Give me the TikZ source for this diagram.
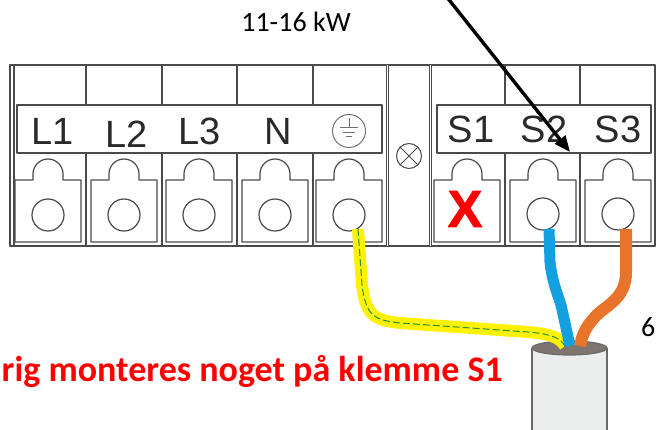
\documentclass[tikz,border=0pt]{standalone}
\usepackage{fontspec}
\setmainfont{Liberation Sans}
\newfontfamily\carlito{Carlito}
\newfontfamily\heavyx{Liberation Sans}[FakeBold=1.6]
\usetikzlibrary{arrows.meta}
\definecolor{frm}{HTML}{4A4A4A}
\definecolor{gnd}{HTML}{707070}
\definecolor{lbl}{HTML}{2A2A2A}
\definecolor{wyel}{HTML}{FFF200}
\definecolor{wgrn}{HTML}{24913A}
\definecolor{wblu}{HTML}{12A0E0}
\definecolor{wora}{HTML}{E8732A}
\definecolor{cabl}{HTML}{ECEDED}
\definecolor{cabedge}{HTML}{6B6B6B}
\definecolor{cabtop}{HTML}{7E7470}
\definecolor{xred}{HTML}{FF0000}
\begin{document}
\begin{tikzpicture}[x=1pt,y=-1pt,line join=round,
  frame/.style={draw=frm,line width=1.2pt},
  dbl/.style={draw=frm,line width=0.9pt,double=white,double distance=1.8pt},
  tlabel/.style={text=lbl,font=\fontsize{38}{40}\selectfont,anchor=base,inner sep=0pt},
  screw/.style={circle,draw=frm,line width=1.2pt,minimum size=32pt,inner sep=0pt},
  wire/.style={line width=#1,line cap=butt},
  smalltxt/.style={font=\carlito\fontsize{28}{30}\selectfont,inner sep=0pt},
]
\useasboundingbox (0,0) rectangle (662,430);
% frame
\draw[frame] (10,65) rectangle (655,246);
\draw[frame] (14,65) -- (14,246);
\draw[frame] (17,105) rectangle (382,153);
\draw[frame] (437,105) rectangle (651,153);
\foreach \x in {86,162,237,313,505,580}{
  \draw[frame] (\x,65) -- (\x,105);
  \draw[frame] (\x,153) -- (\x,246);
}
\draw[dbl] (387.5,65) -- (387.5,246);
\draw[dbl] (430.5,65) -- (430.5,246);
% terminal bodies
\foreach \c in {48,124,199,275,349,467,543,618}{
  \draw[frame,fill=white] ({\c-33},242) -- ({\c-33},180) -- ({\c-15},180) -- ({\c-15},174)
    arc[start angle=180,end angle=0,radius=15pt] -- ({\c+15},180) -- ({\c+33},180) -- ({\c+33},242) -- cycle;
}
% screws
\node[screw] (tL1) at (48,215) {};
\node[screw] (tL2) at (124,215) {};
\node[screw] (tL3) at (199,215) {};
\node[screw] (tN) at (275,215) {};
\node[screw] (tE) at (349,215) {};
\node[screw] (tS2) at (543,214) {};
\node[screw] (tS3) at (618,214) {};
% labels
\node[tlabel] (lL1) at (53,145) {L1};
\node[tlabel] (lL2) at (127,148) {L2};
\node[tlabel] (lL3) at (200,145) {L3};
\node[tlabel] (lN) at (278,145) {N};
\node[tlabel] (lS1) at (471,143) {S1};
\node[tlabel] (lS2) at (544,143) {S2};
\node[tlabel] (lS3) at (618,143) {S3};
% earth symbol
\node[circle,draw=gnd,line width=1pt,minimum size=33pt,inner sep=0pt] (gsym) at (349,131) {};
\draw[gnd,line width=1pt] (349,118) -- (349,128);
\draw[gnd,line width=1pt] (340,128) -- (358,128);
\draw[gnd,line width=1pt] (343,132.5) -- (355,132.5);
\draw[gnd,line width=1pt] (346,137) -- (352,137);
% lamp symbol
\node[circle,draw=frm,line width=1pt,minimum size=25pt,inner sep=0pt] (lamp) at (409,156) {};
\draw[frm,line width=1pt] (lamp.north west) -- (lamp.south east);
\draw[frm,line width=1pt] (lamp.north east) -- (lamp.south west);
% red X
\node[font=\heavyx\bfseries\fontsize{52}{52}\selectfont,text=xred,inner sep=0pt] (xmark) at (465,209) {X};
% cable
\fill[cabl] (532,348) rectangle (607,432);
\draw[cabedge,line width=1.2pt] (532,348) -- (532,432);
\draw[cabedge,line width=1.2pt] (607,348) -- (607,432);
\draw[cabedge,line width=1.2pt,fill=cabtop] (569.5,348) ellipse[x radius=37.5pt,y radius=7pt];
% wires
\coordinate (eS) at (358,229);
\coordinate (bS) at (549,229);
\coordinate (oS) at (626,229);
\coordinate (cE) at (565,346);
\coordinate (cB) at (570,346);
\coordinate (cO) at (580,346);
\draw[wire=12pt,draw=wyel,postaction={draw=wgrn,line width=1pt,dash pattern=on 7pt off 3pt}]
  (eS) -- (362,285) .. controls (366,316) and (374,320) .. (400,323) -- (528,332)
  .. controls (552,334) and (560,338) .. (cE);
\draw[wire=11pt,draw=wblu] (bS) -- (550,262) .. controls (552,280) and (556,290) .. (561,305) -- (cB);
\draw[wire=12pt,draw=wora] (oS) -- (626,272) .. controls (626,300) and (605,305) .. (594,318)
  .. controls (585,328) and (582,336) .. (cO);
% texts
\node[smalltxt,anchor=base] (power) at (296,32) {11-16 kW};
\node[smalltxt,anchor=base west] (six) at (641,337) {6};
\node[font=\carlito\bfseries\fontsize{36}{40}\selectfont,text=xred,anchor=base east,inner sep=0pt] (warn) at (503,382) {rig monteres noget på klemme S1};
% arrow
\coordinate (atail) at (446,-4);
\coordinate (ahead) at (570,152);
\draw[line width=3.4pt,-{Triangle[length=16pt,width=13pt]}] (atail) -- (ahead);
\end{tikzpicture}
\end{document}
